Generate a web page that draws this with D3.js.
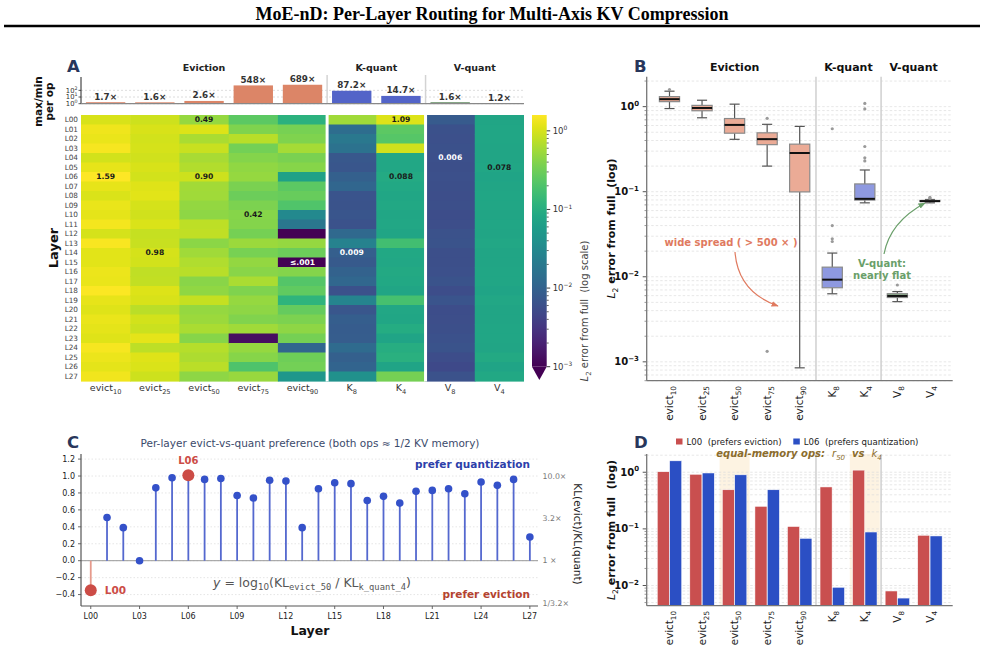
<!DOCTYPE html>
<html><head><meta charset="utf-8">
<script src="https://cdn.jsdelivr.net/npm/d3@7/dist/d3.min.js"></script>
<style>
body{margin:0;background:#fff}
svg{display:block}
text{font-family:"DejaVu Sans",sans-serif; white-space:pre}
</style></head>
<body><svg id="chart" width="985" height="667"></svg>
<script>
// ---------------- DATA ----------------
const layers = ["L00","L01","L02","L03","L04","L05","L06","L07","L08","L09","L10","L11","L12","L13",
                "L14","L15","L16","L17","L18","L19","L20","L21","L22","L23","L24","L25","L26","L27"];
const opBase = ["evict","evict","evict","evict","evict","K","K","V","V"];
const opSub  = ["10","25","50","75","90","8","4","8","4"];
const opGroup = [0,0,0,0,0,1,1,2,2];
const groupNames = ["Eviction","K-quant","V-quant"];
const groupStart = [0,5,7];
const groupEnd   = [4,6,8];

// L2 error from full, per layer (rows L00..L27)
const evict10 = [1.02,1.30,1.25,1.45,0.95,1.22,1.59,1.20,1.05,1.26,1.18,1.40,1.00,1.50,1.15,1.13,1.28,1.24,1.52,1.21,1.10,1.23,1.19,1.12,1.42,1.27,1.16,1.35];
const evict25 = [0.92,1.02,0.95,0.99,0.93,1.03,0.97,1.10,1.15,1.00,0.94,1.06,0.84,0.86,0.98,0.96,0.78,0.80,1.08,1.01,0.74,0.95,0.88,1.19,0.76,1.12,1.05,0.90];
const evict50 = [0.49,1.07,0.62,0.85,0.60,0.68,0.90,0.58,0.55,0.48,0.45,0.76,0.78,0.44,0.56,0.66,0.72,0.43,0.47,0.82,0.50,0.52,0.63,0.413,0.70,0.64,0.74,0.46];
const evict75 = [0.25,0.38,0.729,0.33,0.40,0.47,0.49,0.36,0.30,0.37,0.42,0.41,0.34,0.52,0.35,0.48,0.43,0.62,0.38,0.50,0.46,0.39,0.55,0.00133,0.50,0.42,0.20,0.51];
const evict90 = [0.11,0.35,0.38,0.586,0.36,0.42,0.068,0.25,0.29,0.21,0.032,0.018,0.00085,0.50,0.30,0.0009,0.40,0.22,0.26,0.12,0.28,0.37,0.45,0.34,0.011,0.31,0.33,0.05];
const kquant8 = [0.55,0.0135,0.019,0.016,0.0075,0.0071,0.0093,0.0112,0.0068,0.0066,0.0069,0.0064,0.0122,0.026,0.009,0.0078,0.0098,0.0115,0.00631,0.028,0.0072,0.0088,0.0082,0.0085,0.0128,0.0092,0.0105,0.04];
const kquant4 = [1.09,0.25,0.23,0.94,0.081,0.080,0.088,0.082,0.079,0.083,0.078,0.081,0.077,0.17,0.084,0.080,0.086,0.082,0.076,0.18,0.081,0.078,0.092,0.075,0.10,0.108,0.074,0.34];
const vquant8 = [0.008,0.0062,0.0061,0.0063,0.0060,0.0059,0.0060,0.0058,0.0057,0.0058,0.0056,0.0057,0.0064,0.0065,0.0059,0.0058,0.0061,0.0066,0.0055,0.0067,0.0056,0.0057,0.0058,0.0062,0.0065,0.0055,0.0051,0.0064];
const vquant4 = [0.077,0.078,0.079,0.076,0.077,0.078,0.075,0.077,0.078,0.079,0.076,0.078,0.077,0.080,0.076,0.077,0.078,0.079,0.075,0.081,0.077,0.076,0.078,0.079,0.077,0.0856,0.074,0.084];
const opValues = [evict10,evict25,evict50,evict75,evict90,kquant8,kquant4,vquant8,vquant4];

// annotated heatmap cells [row, col]
const annotCells = [[0,2],[6,0],[6,2],[10,3],[14,1],[15,4],[0,6],[6,6],[14,5],[4,7],[5,8]];

// Panel C: log10(KL_evict_50 / KL_k_quant_4) per layer
const prefVals = [-0.35,0.51,0.39,0.00,0.86,0.98,1.01,0.96,0.97,0.77,0.74,0.95,0.94,0.39,0.85,0.92,0.91,0.71,0.76,0.68,0.82,0.83,0.85,0.79,0.93,0.89,0.96,0.28];
const prefTicks = [-0.4,-0.2,0.0,0.2,0.4,0.6,0.8,1.0,1.2];
const prefRightVals = [1.0,0.5,0.0,-0.5];
const prefRightLabels = ["10.0×","3.2×","1 ×","1/3.2×"];
const prefHighlight = ["L00","L06"];
const prefXTicks = ["L00","L03","L06","L09","L12","L15","L18","L21","L24","L27"];

// Panel D compares two layers
const compareLayers = ["L00","L06"];
const compareLabels = ["L00  (prefers eviction)","L06  (prefers quantization)"];
const highlightOps = [2,6];

const ratioTicks = [1,10,100];

// ---------------- STYLE ----------------
const svg = d3.select("#chart");
const NAVY = "#28365b";
const groupBar = ["#dc8567","#5364c8","#3b6f3b"];
const groupBox = ["#ebab96","#8e99e0","#93b993"];
const cmpColors = ["#c94f4f","#2b4fc4"];

function rich(sel, parts, size){
  let off = 0;
  parts.forEach(p=>{
    const t = sel.append("tspan").text(p.t);
    const target = p.sub ? size*0.3 : (p.sup ? -size*0.45 : 0);
    if (target !== off){ t.attr("dy", target-off); off = target; }
    if (p.sub || p.sup) t.attr("font-size", size*0.7);
    if (p.it) t.attr("font-style","italic");
    if (p.w) t.attr("font-weight", p.w);
    if (p.mono) t.attr("font-family","'DejaVu Sans Mono',monospace");
  });
  return sel;
}
function pow10(sel, e, size){
  return rich(sel,[{t:"10"},{t:(e<0?"−"+(-e):String(e)), sup:true}], size);
}
function opLabel(sel,i,size){ return rich(sel,[{t:opBase[i]},{t:opSub[i],sub:true}],size); }
function vtext(g, x, y, angle){
  return g.append("text").attr("x",x).attr("y",y).attr("transform",`rotate(${angle},${x},${y})`);
}

// ---------------- TITLE ----------------
svg.append("text").attr("x",492).attr("y",20).attr("text-anchor","middle")
  .style("font-family","'Liberation Serif','Times New Roman',serif")
  .attr("font-weight","bold").attr("font-size",18)
  .text("MoE-nD: Per-Layer Routing for Multi-Axis KV Compression");
svg.append("line").attr("x1",4).attr("x2",980).attr("y1",26).attr("y2",26)
  .attr("stroke","#000").attr("stroke-width",2.5);

function letter(x,y,t){
  svg.append("text").attr("x",x).attr("y",y).attr("font-size",16.5)
    .attr("font-weight","bold").attr("fill",NAVY).text(t);
}
letter(67,72,"A"); letter(634,72,"B"); letter(67,448,"C"); letter(634,448,"D");

// ---------------- PANEL A: top ratio bars ----------------
const xA = d3.scaleBand().domain(d3.range(opBase.length)).range([81,524]);
const bw = xA.bandwidth();
const yR = d3.scaleLog().domain([1,1e4]).range([103.7,77]);
const ratios = opValues.map(v=>d3.max(v)/d3.min(v));
const gA = svg.append("g");
ratioTicks.forEach(t=>{
  gA.append("line").attr("x1",81).attr("x2",524).attr("y1",yR(t)).attr("y2",yR(t))
    .attr("stroke","#cfcfcf").attr("stroke-width",0.7).attr("stroke-dasharray","2,2");
  gA.append("line").attr("x1",78.5).attr("x2",81).attr("y1",yR(t)).attr("y2",yR(t)).attr("stroke","#333").attr("stroke-width",0.8);
  pow10(gA.append("text").attr("x",77.5).attr("y",yR(t)+2.3).attr("text-anchor","end")
    .attr("font-size",6.8).attr("fill","#333"), Math.round(Math.log10(t)), 6.8);
});
[groupStart[1],groupStart[2]].forEach(c=>{
  gA.append("line").attr("x1",xA(c)).attr("x2",xA(c)).attr("y1",75).attr("y2",104)
    .attr("stroke","#d3d3d3").attr("stroke-width",1.5);
});
gA.selectAll("rect.rb").data(ratios).join("rect").attr("class","rb")
  .attr("x",(d,i)=>xA(i)+bw*0.1).attr("width",bw*0.8)
  .attr("y",d=>yR(d)).attr("height",d=>yR(1)-yR(d))
  .attr("fill",(d,i)=>groupBar[opGroup[i]]);
gA.selectAll("text.rl").data(ratios).join("text").attr("class","rl")
  .attr("x",(d,i)=>xA(i)+bw/2).attr("y",d=>yR(d)-2.5).attr("text-anchor","middle")
  .attr("font-size",8.8).attr("font-weight","bold").attr("fill","#333")
  .text(d=>(d>=100?d3.format(".0f")(d):d3.format(".1f")(d))+"×");
gA.append("line").attr("x1",81).attr("x2",81).attr("y1",77).attr("y2",103.7).attr("stroke","#222").attr("stroke-width",1);
gA.append("line").attr("x1",81).attr("x2",524).attr("y1",103.7).attr("y2",103.7).attr("stroke","#888").attr("stroke-width",1.2);
groupNames.forEach((g,k)=>{
  const cx = (xA(groupStart[k]) + xA(groupEnd[k]) + bw)/2;
  gA.append("text").attr("x",cx).attr("y",71).attr("text-anchor","middle")
    .attr("font-size",9.5).attr("font-weight","bold").attr("fill","#222").text(g);
});
vtext(gA,41.5,101.5,-90).attr("text-anchor","middle")
  .attr("font-size",10.5).attr("font-weight","bold").attr("fill","#111").text("max/min");
vtext(gA,53,101.5,-90).attr("text-anchor","middle")
  .attr("font-size",10.5).attr("font-weight","bold").attr("fill","#111").text("per op");

// ---------------- PANEL A: heatmap ----------------
const yH = d3.scaleBand().domain(layers).range([115,381]);
const vmax = d3.max(opValues.flat());
const color = d3.scaleSequentialLog(d3.interpolateViridis).domain([1e-3,vmax]).clamp(true);
const gH = svg.append("g");
opValues.forEach((vals,c)=>{
  gH.selectAll(null).data(vals).join("rect")
    .attr("x",xA(c)).attr("y",(d,r)=>yH(layers[r]))
    .attr("width",bw+(c<8?0.6:0)).attr("height",yH.bandwidth()+(0.6))
    .attr("fill",d=>color(d));
});
[groupStart[1],groupStart[2]].forEach(c=>{
  gH.append("line").attr("x1",xA(c)).attr("x2",xA(c)).attr("y1",115).attr("y2",381.6)
    .attr("stroke","#fff").attr("stroke-width",3);
});
layers.forEach(l=>{
  gH.append("text").attr("x",78).attr("y",yH(l)+yH.bandwidth()/2+2.6).attr("text-anchor","end")
    .attr("font-size",7.3).attr("fill","#444").text(l);
});
function fmtCell(v){
  if (v < 0.001) return "≤.001";
  if (v < 0.1) return d3.format(".3f")(v);
  return d3.format(".2f")(v);
}
annotCells.forEach(([r,c])=>{
  const v = opValues[c][r];
  gH.append("text").attr("x",xA(c)+bw/2).attr("y",yH(layers[r])+yH.bandwidth()/2+2.7)
    .attr("text-anchor","middle").attr("font-size",7.6).attr("font-weight","bold")
    .attr("fill", v<0.02 ? "#fff" : "#1a1a1a").text(fmtCell(v));
});
opBase.forEach((b,i)=>{
  opLabel(gH.append("text").attr("x",xA(i)+bw/2).attr("y",391).attr("text-anchor","middle")
    .attr("font-size",9.5).attr("fill","#333"), i, 9.5);
});
vtext(gH,58,248,-90).attr("text-anchor","middle")
  .attr("font-size",13).attr("font-weight","bold").attr("fill","#111").text("Layer");

// colorbar
const cbx = 532, cbw = 14.7, cbTop = 115, cbBot = 366.7, cbTip = 380;
const yCb = d3.scaleLog().domain([1e-3,vmax]).range([cbBot,cbTop]);
const grad = svg.append("defs").append("linearGradient").attr("id","vir")
  .attr("x1",0).attr("y1",1).attr("x2",0).attr("y2",0);
d3.range(0,1.0001,0.05).forEach(t=>grad.append("stop").attr("offset",t).attr("stop-color",d3.interpolateViridis(t)));
svg.append("rect").attr("x",cbx).attr("y",cbTop).attr("width",cbw).attr("height",cbBot-cbTop).attr("fill","url(#vir)");
svg.append("path").attr("d",`M${cbx},${cbBot} L${cbx+cbw},${cbBot} L${cbx+cbw/2},${cbTip} Z`).attr("fill",d3.interpolateViridis(0));
[-3,-2,-1,0].forEach(e=>{
  const v = Math.pow(10,e);
  svg.append("line").attr("x1",cbx+cbw).attr("x2",cbx+cbw+3.5).attr("y1",yCb(v)).attr("y2",yCb(v)).attr("stroke","#222").attr("stroke-width",0.9);
  pow10(svg.append("text").attr("x",cbx+cbw+6).attr("y",yCb(v)+3).attr("font-size",8.5).attr("fill","#333"),e,8.5);
  for (let m=2;m<=9;m++){
    const mv = m*v; if (mv>vmax) break;
    svg.append("line").attr("x1",cbx+cbw).attr("x2",cbx+cbw+2).attr("y1",yCb(mv)).attr("y2",yCb(mv)).attr("stroke","#222").attr("stroke-width",0.7);
  }
});
rich(vtext(svg,588,311,-90).attr("text-anchor","middle")
  .attr("font-size",10).attr("fill","#444"),
  [{t:"L",it:true},{t:"2",sub:true},{t:" error from full  (log scale)"}],10);

// ---------------- log grid helper ----------------
function logGrid(g, y, x0, x1, lo, hi, tickX, labelSize, labelExps){
  for (let e=-5;e<=1;e++){
    for (let m=1;m<=9;m++){
      const v = m*Math.pow(10,e);
      if (v<lo || v>hi) continue;
      g.append("line").attr("x1",x0).attr("x2",x1).attr("y1",y(v)).attr("y2",y(v))
        .attr("stroke","#dcdcdc").attr("stroke-width",0.7).attr("stroke-dasharray","2.5,2");
      g.append("line").attr("x1",x0-(m===1?4:2.2)).attr("x2",x0).attr("y1",y(v)).attr("y2",y(v))
        .attr("stroke","#555").attr("stroke-width",m===1?1:0.6);
      if (m===1 && labelExps.includes(e)){
        pow10(g.append("text").attr("x",tickX).attr("y",y(v)+3.5).attr("text-anchor","end")
          .attr("font-size",labelSize).attr("font-weight","bold").attr("fill","#111"),e,labelSize);
      }
    }
  }
}

// ---------------- PANEL B ----------------
const xB = d3.scaleLinear().domain([0.3,9.7]).range([646.7,952.7]);
const yB = d3.scaleLog().domain([6e-4,2.25]).range([380.7,76.7]);
const gB = svg.append("g");
logGrid(gB, yB, 646.7, 952.7, 6e-4, 2.25, 639, 10, [-3,-2,-1,0]);
[5.5,7.5].forEach(s=>{
  gB.append("line").attr("x1",xB(s)).attr("x2",xB(s)).attr("y1",76.7).attr("y2",380.7)
    .attr("stroke","#cfcfcf").attr("stroke-width",1.5);
});
opValues.forEach((vals,i)=>{
  const s = vals.slice().sort(d3.ascending);
  const q1 = d3.quantileSorted(s,0.25), med = d3.quantileSorted(s,0.5), q3 = d3.quantileSorted(s,0.75);
  const iqr = q3-q1;
  const lo = d3.min(s.filter(v=>v>=q1-1.5*iqr)), hi = d3.max(s.filter(v=>v<=q3+1.5*iqr));
  const outs = s.filter(v=>v<lo||v>hi);
  const cx = xB(i+1), hw = xB(0.31)-xB(0), cw = hw/2;
  const g = gB.append("g");
  g.append("line").attr("x1",cx).attr("x2",cx).attr("y1",yB(q3)).attr("y2",yB(hi)).attr("stroke","#555").attr("stroke-width",1.2);
  g.append("line").attr("x1",cx).attr("x2",cx).attr("y1",yB(q1)).attr("y2",yB(lo)).attr("stroke","#555").attr("stroke-width",1.2);
  g.append("line").attr("x1",cx-cw).attr("x2",cx+cw).attr("y1",yB(hi)).attr("y2",yB(hi)).attr("stroke","#555").attr("stroke-width",1.2);
  g.append("line").attr("x1",cx-cw).attr("x2",cx+cw).attr("y1",yB(lo)).attr("y2",yB(lo)).attr("stroke","#555").attr("stroke-width",1.2);
  g.append("rect").attr("x",cx-hw).attr("width",2*hw).attr("y",yB(q3)).attr("height",Math.max(0.5,yB(q1)-yB(q3)))
    .attr("fill",groupBox[opGroup[i]]).attr("stroke","#8a8a8a").attr("stroke-width",1.2);
  g.append("line").attr("x1",cx-hw).attr("x2",cx+hw).attr("y1",yB(med)).attr("y2",yB(med)).attr("stroke","#111").attr("stroke-width",2);
  g.selectAll("circle").data(outs).join("circle").attr("cx",cx).attr("cy",d=>yB(d)).attr("r",1.6).attr("fill","#9a9a9a");
  opLabel(vtext(gB,cx+3.6,386,-90).attr("text-anchor","end").attr("font-size",10.5).attr("fill","#222"),i,10.5);
});
gB.append("line").attr("x1",646.7).attr("x2",646.7).attr("y1",76.7).attr("y2",380.7).attr("stroke","#777").attr("stroke-width",1.3);
gB.append("line").attr("x1",646.7).attr("x2",952.7).attr("y1",380.7).attr("y2",380.7).attr("stroke","#777").attr("stroke-width",1.3);
groupNames.forEach((g,k)=>{
  gB.append("text").attr("x",xB((groupStart[k]+groupEnd[k])/2+1)).attr("y",71).attr("text-anchor","middle")
    .attr("font-size",11).attr("font-weight","bold").attr("fill","#111").text(g);
});
rich(vtext(gB,615,228.5,-90).attr("text-anchor","middle")
  .attr("font-size",11).attr("font-weight","bold").attr("fill","#111"),
  [{t:"L",it:true,w:"normal"},{t:"2",sub:true,w:"normal"},{t:" error from full  (log)"}],11);
const defs = svg.append("defs");
function arrowMarker(id,col){
  defs.append("marker").attr("id",id).attr("viewBox","0 0 10 10").attr("refX",9).attr("refY",5)
    .attr("markerWidth",6).attr("markerHeight",6).attr("markerUnits","strokeWidth").attr("orient","auto")
    .append("path").attr("d","M0,1 L10,5 L0,9 Z").attr("fill",col);
}
arrowMarker("arS","#e07a5f"); arrowMarker("arG","#6a9f6a");
gB.append("text").attr("x",731).attr("y",246).attr("text-anchor","middle").attr("font-size",10)
  .attr("font-weight","bold").attr("fill","#e07a5f").text("wide spread ( > 500 × )");
gB.append("path").attr("d","M735,252 Q738,292 778,306").attr("fill","none").attr("stroke","#e07a5f")
  .attr("stroke-width",1.2).attr("marker-end","url(#arS)");
gB.append("text").attr("x",882).attr("y",266.5).attr("text-anchor","middle").attr("font-size",10)
  .attr("font-weight","bold").attr("fill","#6a9f6a").text("V-quant:");
gB.append("text").attr("x",882).attr("y",278.5).attr("text-anchor","middle").attr("font-size",10)
  .attr("font-weight","bold").attr("fill","#6a9f6a").text("nearly flat");
gB.append("path").attr("d","M884,254 Q890,222 925,203").attr("fill","none").attr("stroke","#6a9f6a")
  .attr("stroke-width",1.2).attr("marker-end","url(#arG)");

// ---------------- PANEL C ----------------
const xC = d3.scaleLinear().domain([-0.6,27.5]).range([81,538]);
const yC = d3.scaleLinear().domain([-0.535,1.26]).range([606,454]);
const gC = svg.append("g");
prefTicks.forEach(t=>{
  gC.append("line").attr("x1",81).attr("x2",538).attr("y1",yC(t)).attr("y2",yC(t))
    .attr("stroke","#e0e0e0").attr("stroke-width",0.8).attr("stroke-dasharray","1.5,2");
  gC.append("line").attr("x1",78).attr("x2",81).attr("y1",yC(t)).attr("y2",yC(t)).attr("stroke","#444").attr("stroke-width",0.8);
  gC.append("text").attr("x",75).attr("y",yC(t)+2.8).attr("text-anchor","end").attr("font-size",8)
    .attr("fill","#222").text(d3.format(".1f")(t));
});
gC.append("line").attr("x1",81).attr("x2",538).attr("y1",yC(0)).attr("y2",yC(0)).attr("stroke","#999").attr("stroke-width",1);
prefVals.forEach((v,i)=>{
  const hl = prefHighlight.includes(layers[i]);
  gC.append("line").attr("x1",xC(i)).attr("x2",xC(i)).attr("y1",yC(0)).attr("y2",yC(v))
    .attr("stroke", (hl && v<0) ? "#e69a8c" : "#5468cf").attr("stroke-width",1.8);
});
prefVals.forEach((v,i)=>{
  const hl = prefHighlight.includes(layers[i]);
  gC.append("circle").attr("cx",xC(i)).attr("cy",yC(v)).attr("r",hl?6:3.8)
    .attr("fill",hl?"#cc4c46":"#3451c9");
});
prefXTicks.forEach(l=>{
  const i = layers.indexOf(l);
  gC.append("line").attr("x1",xC(i)).attr("x2",xC(i)).attr("y1",606).attr("y2",609).attr("stroke","#444").attr("stroke-width",0.8);
  gC.append("text").attr("x",xC(i)).attr("y",618.5).attr("text-anchor","middle").attr("font-size",8)
    .attr("fill","#222").text(l);
});
gC.append("line").attr("x1",81).attr("x2",81).attr("y1",454).attr("y2",606).attr("stroke","#555").attr("stroke-width",1.2);
gC.append("line").attr("x1",81).attr("x2",538).attr("y1",606).attr("y2",606).attr("stroke","#555").attr("stroke-width",1.2);
prefRightVals.forEach((v,k)=>{
  gC.append("text").attr("x",542.5).attr("y",yC(v)+2.8).attr("font-size",7.8).attr("fill","#777").text(prefRightLabels[k]);
});
vtext(gC,574,534,90).attr("text-anchor","middle")
  .attr("font-size",10.5).attr("fill","#222").text("KL(evict)/KL(quant)");
gC.append("text").attr("x",310).attr("y",634.5).attr("text-anchor","middle").attr("font-size",12.5)
  .attr("font-weight","bold").attr("fill","#111").text("Layer");
gC.append("text").attr("x",310).attr("y",447).attr("text-anchor","middle").attr("font-size",10.5)
  .attr("fill","#3b4a6b").text("Per-layer evict-vs-quant preference (both ops ≈ 1/2 KV memory)");
const i06 = layers.indexOf("L06"), i00 = layers.indexOf("L00");
gC.append("text").attr("x",xC(i06)).attr("y",yC(prefVals[i06])-11).attr("text-anchor","middle")
  .attr("font-size",10).attr("font-weight","bold").attr("fill","#cc4c46").text("L06");
gC.append("text").attr("x",xC(i00)+14).attr("y",yC(prefVals[i00])+3.8).attr("font-size",10.5)
  .attr("font-weight","bold").attr("fill","#cc4c46").text("L00");
gC.append("text").attr("x",530).attr("y",468).attr("text-anchor","end").attr("font-size",10.5)
  .attr("font-weight","bold").attr("fill","#2d40aa").text("prefer quantization");
gC.append("text").attr("x",530).attr("y",598).attr("text-anchor","end").attr("font-size",10.5)
  .attr("font-weight","bold").attr("fill","#b4432f").text("prefer eviction");
rich(gC.append("text").attr("x",213).attr("y",586.5).attr("font-size",12.5).attr("fill","#555"),
  [{t:"y",it:true},{t:" = log"},{t:"10",sub:true},{t:"(KL"},{t:"evict_50",sub:true,mono:true},
   {t:" / KL"},{t:"k_quant_4",sub:true,mono:true},{t:")"}],12.5);

// ---------------- PANEL D ----------------
const xD = d3.scaleLinear().domain([0.3,9.7]).range([646.7,952.7]);
const yD = d3.scaleLog().domain([0.0044,2.1]).range([605.7,454]);
const gD = svg.append("g");
highlightOps.forEach(i=>{
  gD.append("rect").attr("x",xD(i+1-0.46)).attr("width",xD(0.92)-xD(0)).attr("y",454).attr("height",151.7)
    .attr("fill","#fdf2df").attr("opacity",0.9);
});
logGrid(gD, yD, 646.7, 952.7, 0.0044, 2.1, 639, 10, [-2,-1,0]);
[5.5,7.5].forEach(s=>{
  gD.append("line").attr("x1",xD(s)).attr("x2",xD(s)).attr("y1",454).attr("y2",605.7)
    .attr("stroke","#cfcfcf").attr("stroke-width",1.5);
});
compareLayers.forEach((l,k)=>{
  const r = layers.indexOf(l);
  const vals = opValues.map(v=>v[r]);
  gD.selectAll(null).data(vals).join("rect")
    .attr("x",(d,i)=>xD(i+1+(k===0?-0.375:0.005))).attr("width",xD(0.37)-xD(0))
    .attr("y",d=>yD(d)).attr("height",d=>605.7-yD(d))
    .attr("fill",cmpColors[k]).attr("stroke","#fff").attr("stroke-width",0.5);
});
opBase.forEach((b,i)=>{
  opLabel(vtext(gD,xD(i+1)+3.6,611,-90).attr("text-anchor","end")
    .attr("font-size",10.3).attr("fill","#222"), i, 10.3);
});
gD.append("line").attr("x1",646.7).attr("x2",646.7).attr("y1",454).attr("y2",605.7).attr("stroke","#777").attr("stroke-width",1.3);
gD.append("line").attr("x1",646.7).attr("x2",952.7).attr("y1",605.7).attr("y2",605.7).attr("stroke","#777").attr("stroke-width",1.3);
rich(vtext(gD,615,530,-90).attr("text-anchor","middle")
  .attr("font-size",11).attr("font-weight","bold").attr("fill","#111"),
  [{t:"L",it:true,w:"normal"},{t:"2",sub:true,w:"normal"},{t:" error from full  (log)"}],11);
// legend
const legX = [676,793.3];
compareLabels.forEach((t,k)=>{
  gD.append("rect").attr("x",legX[k]).attr("y",438.5).attr("width",6.5).attr("height",6).attr("fill",cmpColors[k]);
  gD.append("text").attr("x",legX[k]+10.5).attr("y",444.8).attr("font-size",8.6).attr("fill","#222").text(t);
});
rich(gD.append("text").attr("x",799).attr("y",457).attr("text-anchor","middle").attr("font-size",10)
  .attr("font-weight","bold").attr("font-style","italic").attr("fill","#8b6c2d"),
  [{t:"equal-memory ops:  "},{t:"r",w:"normal"},{t:"50",sub:true,w:"normal"},{t:"  vs  "},{t:"k",w:"normal"},{t:"4",sub:true,w:"normal"}],10);
</script></body></html>
